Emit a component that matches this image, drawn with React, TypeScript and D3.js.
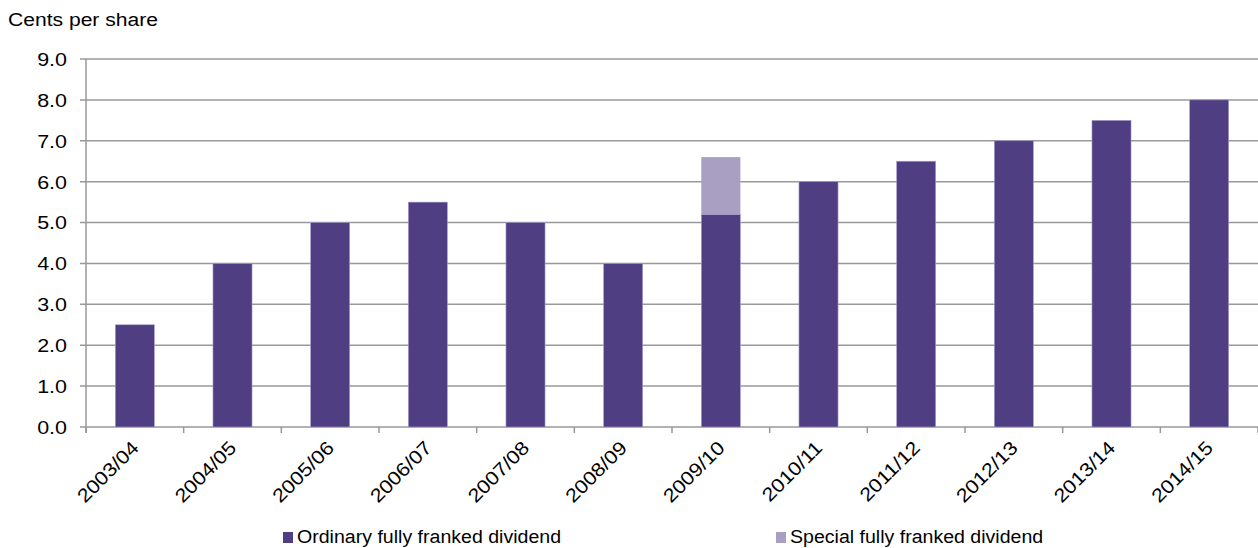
import React, { useEffect, useRef } from 'react';
import * as d3 from 'd3';

const years = ['2003/04', '2004/05', '2005/06', '2006/07', '2007/08', '2008/09', '2009/10', '2010/11', '2011/12', '2012/13', '2013/14', '2014/15'];
const ordinary = [2.5, 4.0, 5.0, 5.5, 5.0, 4.0, 5.2, 6.0, 6.5, 7.0, 7.5, 8.0];
const special = [0, 0, 0, 0, 0, 0, 1.4, 0, 0, 0, 0, 0];
const yTicks = [0, 1, 2, 3, 4, 5, 6, 7, 8, 9];
const seriesNames = ['Ordinary fully franked dividend', 'Special fully franked dividend'];

const width = 1258;
const height = 548;
const colors = ['#4f3f82', '#a99fc3'];
const font = 'Liberation Sans, Arial, sans-serif';
const fontSize = '19px';
const stretch = 1.13; // the source text is a bit wider than plain Arial
const legendStretch = 1.03;

const App: React.FC = () => {
  const svgRef = useRef<SVGSVGElement | null>(null);

  useEffect(() => {
    if (!svgRef.current) return;
    const svg = d3.select(svgRef.current);
    svg.selectAll('*').remove();

    const margin = { top: 59, right: 0, bottom: 121, left: 86 };
    const innerWidth = width - margin.left - margin.right;
    const innerHeight = height - margin.top - margin.bottom;

    const x = d3.scaleBand().domain(years).range([0, innerWidth]).paddingInner(0.6).paddingOuter(0.3);
    const y = d3.scaleLinear().domain([0, 9]).range([innerHeight, 0]);

    const g = svg.append('g').attr('transform', `translate(${margin.left},${margin.top})`);

    // gridlines with left tick stubs
    g.append('g')
      .selectAll('line')
      .data(yTicks)
      .enter().append('line')
        .attr('x1', -6)
        .attr('x2', innerWidth)
        .attr('y1', d => y(d))
        .attr('y2', d => y(d))
        .attr('stroke', '#999')
        .attr('stroke-width', 1.5);

    // y labels
    g.append('g')
      .selectAll('text')
      .data(yTicks)
      .enter().append('text')
        .attr('transform', d => `translate(-19,${y(d)}) scale(${stretch},1)`)
        .attr('dy', '0.36em')
        .attr('text-anchor', 'end')
        .style('font-family', font)
        .style('font-size', fontSize)
        .attr('fill', '#000')
        .text(d => d.toFixed(1));

    // y axis line
    g.append('line')
      .attr('x1', 0).attr('x2', 0)
      .attr('y1', 0).attr('y2', innerHeight + 6)
      .attr('stroke', '#999')
      .attr('stroke-width', 1.5);

    // x ticks at band boundaries
    const step = x.step();
    const boundaries = d3.range(years.length + 1).map(i => i * step);
    g.append('g')
      .selectAll('line')
      .data(boundaries)
      .enter().append('line')
        .attr('x1', d => d).attr('x2', d => d)
        .attr('y1', innerHeight).attr('y2', innerHeight + 6)
        .attr('stroke', '#999')
        .attr('stroke-width', 1.5);

    // bars
    const stackData = years.map((yr, i) => ({ year: yr, ordinary: ordinary[i], special: special[i] }));
    const stack = d3.stack<typeof stackData[number]>().keys(['ordinary', 'special'])(stackData);

    stack.forEach((layer, li) => {
      g.append('g')
        .selectAll('rect')
        .data(layer.filter(d => d[1] - d[0] > 0))
        .enter().append('rect')
          .attr('x', d => x(d.data.year) || 0)
          .attr('y', d => y(d[1]))
          .attr('width', x.bandwidth())
          .attr('height', d => y(d[0]) - y(d[1]))
          .attr('fill', colors[li])
          .attr('stroke', li === 0 ? '#a99fd0' : 'none')
          .attr('stroke-width', 0.6);
    });

    // x labels
    g.append('g')
      .selectAll('text')
      .data(years)
      .enter().append('text')
        .attr('transform', d => `translate(${(x(d) || 0) + x.bandwidth() / 2 + 5},${innerHeight + 22}) rotate(-45) scale(${stretch},1)`)
        .attr('text-anchor', 'end')
        .style('font-family', font)
        .style('font-size', fontSize)
        .attr('fill', '#000')
        .text(d => d);

    // axis title
    svg.append('text')
      .attr('transform', `translate(8,26) scale(1.11,1)`)
      .style('font-family', font)
      .style('font-size', fontSize)
      .attr('fill', '#000')
      .text('Cents per share');

    // legend
    const legendX = [283, 776];
    const legend = svg.append('g');
    seriesNames.forEach((name, i) => {
      legend.append('rect')
        .attr('x', legendX[i])
        .attr('y', 532)
        .attr('width', 10)
        .attr('height', 11)
        .attr('fill', colors[i]);
      legend.append('text')
        .attr('transform', `translate(${legendX[i] + 14},543) scale(${legendStretch},1)`)
        .style('font-family', font)
        .style('font-size', fontSize)
        .attr('fill', '#000')
        .text(name);
    });
  }, []);

  return (
    <div style={{ position: 'absolute', left: 0, top: 0, background: '#fff' }}>
      <svg ref={svgRef} width={width} height={height}></svg>
    </div>
  );
};

export default App;
